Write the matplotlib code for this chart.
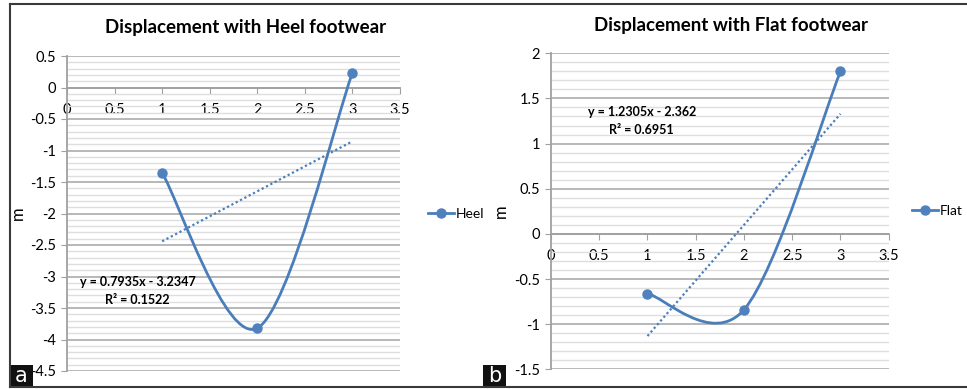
import numpy as np
import matplotlib
matplotlib.use('Agg')
import matplotlib.pyplot as plt
from matplotlib.path import Path
from matplotlib.patches import PathPatch, Rectangle
from matplotlib.lines import Line2D

plt.rcParams['font.family'] = ['Lato', 'DejaVu Sans']

# data
trial = [1, 2, 3]
heel = [-1.355, -3.82, 0.232]
flat = [-0.662, -0.84, 1.799]

heel_eq = 'y = 0.7935x - 3.2347\nR² = 0.1522'
flat_eq = 'y = 1.2305x - 2.362\nR² = 0.6951'

x_ticks = [0, 0.5, 1, 1.5, 2, 2.5, 3, 3.5]
x_labels = ['0', '0.5', '1', '1.5', '2', '2.5', '3', '3.5']
heel_yticks = [0.5, 0, -0.5, -1, -1.5, -2, -2.5, -3, -3.5, -4, -4.5]
heel_ylabels = ['0.5', '0', '-0.5', '-1', '-1.5', '-2', '-2.5', '-3', '-3.5', '-4', '-4.5']
flat_yticks = [2, 1.5, 1, 0.5, 0, -0.5, -1, -1.5]
flat_ylabels = ['2', '1.5', '1', '0.5', '0', '-0.5', '-1', '-1.5']

LINE = '#4a7ebb'
MARK = '#4f81bd'
W, H = 967, 389


def smooth_path(xs, ys):
    # excel style smoothed line, cubic bezier through the points
    p = np.column_stack([xs, ys]).astype(float)
    n = len(p)
    verts = [p[0]]
    codes = [Path.MOVETO]
    for i in range(n - 1):
        p0 = p[max(i - 1, 0)]
        p1 = p[i]
        p2 = p[i + 1]
        p3 = p[min(i + 2, n - 1)]
        c1 = p1 + (p2 - p0) / 6
        c2 = p2 - (p3 - p1) / 6
        verts += [c1, c2, p2]
        codes += [Path.CURVE4] * 3
    return Path(verts, codes)


def draw_panel(ax, ys, name, title, yticks, ylabels, eq, eq_xy, title_xy, leg_x):
    ax.set_xlim(0, 3.5)
    ax.set_ylim(min(yticks), max(yticks))
    ax.set_yticks(np.arange(min(yticks), max(yticks) + 0.01, 0.1), minor=True)
    ax.grid(True, axis='y', which='minor', color='#dedede', lw=1.0)
    ax.grid(True, axis='y', which='major', color='#b2b2b2', lw=1.3)
    ax.set_axisbelow(True)

    for s in ['top', 'right']:
        ax.spines[s].set_visible(False)
    ax.spines['bottom'].set_position(('data', 0))
    ax.spines['bottom'].set_color('#a0a0a0')
    ax.spines['left'].set_color('#a0a0a0')
    ax.spines['bottom'].set_linewidth(1.3)
    ax.spines['left'].set_linewidth(1.3)

    ax.set_xticks(x_ticks)
    ax.set_xticklabels(x_labels)
    ax.set_yticks(yticks)
    ax.set_yticklabels(ylabels)
    ax.tick_params(axis='x', direction='out', length=4, color='#a0a0a0', pad=7, labelsize=10.5)
    ax.tick_params(axis='y', direction='out', length=4, color='#a0a0a0', pad=4, labelsize=10.5)
    ax.tick_params(axis='y', which='minor', length=0)

    ax.add_patch(PathPatch(smooth_path(trial, ys), facecolor='none', edgecolor=LINE, lw=2.0, zorder=3))
    ax.plot(trial, ys, ls='none', marker='o', ms=6.5, color=MARK, zorder=4)

    k, b = np.polyfit(trial, ys, 1)
    tx = np.array([trial[0], trial[-1]])
    ax.plot(tx, k * tx + b, ls=(0, (1, 1.2)), color=LINE, lw=1.6, zorder=3)

    ax.text(eq_xy[0], eq_xy[1], eq, ha='center', va='center', fontsize=9,
            fontweight='bold', linespacing=1.6)

    ax.set_ylabel('m', fontsize=12)
    ax.yaxis.set_label_coords(-0.125, 0.5)

    h = Line2D([], [], color=LINE, lw=2.0, marker='o', ms=6.5, mfc=MARK, mec=MARK)
    ax.legend([h], [name], loc='center left', bbox_to_anchor=(leg_x, 0.5), frameon=False,
              fontsize=10, handlelength=1.9, handletextpad=0.12, borderpad=0, borderaxespad=0)

    ax.figure.text(title_xy[0], title_xy[1], title, ha='center', va='center',
                   fontsize=13.5, fontweight='bold')


fig = plt.figure(figsize=(W / 100, H / 100), dpi=100)

ax1 = fig.add_axes([67 / W, 18 / H, 333 / W, 315 / H])
draw_panel(ax1, heel, 'Heel', 'Displacement with Heel footwear', heel_yticks, heel_ylabels,
           heel_eq, (0.74, -3.23), (246 / W, 1 - 27 / H), 1.084)

ax2 = fig.add_axes([551 / W, 19.7 / H, 337.7 / W, 316 / H])
draw_panel(ax2, flat, 'Flat', 'Displacement with Flat footwear', flat_yticks, flat_ylabels,
           flat_eq, (0.94, 1.255), (731 / W, 1 - 25 / H), 1.068)

# outer frame
for xs, ys in [([10, 10], [4, 387]), ([10, W], [4, 4]), ([10, W], [387, 387])]:
    fig.add_artist(Line2D([x / W for x in xs], [1 - y / H for y in ys], color='#3a3a3a', lw=1.5))

# panel tags
for x0, tag in [(10, 'a'), (483, 'b')]:
    fig.add_artist(Rectangle((x0 / W, 2 / H), 23 / W, 22 / H, facecolor='#111111', edgecolor='none'))
    fig.text((x0 + 11.5) / W, 13 / H, tag, color='white', ha='center', va='center',
             fontsize=15, family='DejaVu Sans')

fig.savefig('out.png', dpi=100)
